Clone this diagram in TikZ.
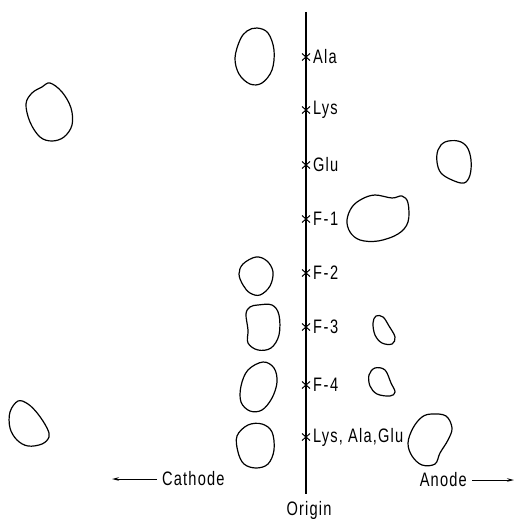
\documentclass[tikz,border=0pt]{standalone}
\usepackage{fontspec}
\setmainfont[FakeStretch=0.75,LetterSpace=6]{Liberation Sans}
\usetikzlibrary{shapes.misc,arrows.meta}
\begin{document}
\begin{tikzpicture}[x=1pt,y=-1pt,
  spot/.style={draw=black,line width=1.2pt,line join=round},
  xmk/.style={cross out,draw=black,line width=1pt,minimum width=7pt,minimum height=6pt,inner sep=0pt},
  lab/.style={anchor=west,inner sep=0pt,font=\fontsize{19.5}{21}\selectfont},
  txt/.style={inner sep=0pt,font=\fontsize{19.5}{21}\selectfont},
  axis/.style={line width=1.2pt},
  dir/.style={line width=1pt,-{Stealth[length=7pt,width=3.5pt]}}]
\useasboundingbox (0,0) rectangle (514,519);
% axis
\coordinate (top) at (306,12);
\coordinate (bot) at (306,494);
\draw[axis] (top) -- (bot);
% marks and labels
\node[xmk] (m1) at (306,57) {};  \node[lab] (l1) at (313,57) {Ala};
\node[xmk] (m2) at (306,110) {}; \node[lab] (l2) at (313,110) {Lys};
\node[xmk] (m3) at (306,165) {}; \node[lab] (l3) at (313,165) {Glu};
\node[xmk] (m4) at (306,219) {}; \node[lab] (l4) at (313,219) {F\kern1.5pt-\kern1.5pt1};
\node[xmk] (m5) at (306,273) {}; \node[lab] (l5) at (313,273) {F\kern1.5pt-\kern1.5pt2};
\node[xmk] (m6) at (306,327) {}; \node[lab] (l6) at (313,327) {F\kern1.5pt-\kern1.5pt3};
\node[xmk] (m7) at (306,385) {}; \node[lab] (l7) at (313,385) {F\kern1.5pt-\kern1.5pt4};
\node[xmk] (m8) at (306,437) {}; \node[lab] (l8) at (313,437) {Lys, Ala,Glu};
% bottom labels
\node[txt,anchor=west] (cat) at (162,479) {Cathode};
\coordinate (catend) at (112,479);
\draw[dir] (cat.west) ++(-5,0) -- (catend);
\node[txt,anchor=east] (ano) at (467,480) {Anode};
\coordinate (anoend) at (514,480);
\draw[dir] ([xshift=5pt]ano.east) -- (anoend);
\node[txt] (ori) at (309,510) {Origin};
% spots
\draw[spot] plot[smooth cycle,tension=0.6] coordinates {(257,28) (268,33) (274,50) (272,70) (262,83) (250,84) (239,74) (235,58) (240,40) (247,31)};
\draw[spot] plot[smooth cycle,tension=0.6] coordinates {(50,83) (62,92) (71,108) (72,125) (64,137) (52,141) (40,137) (30,122) (26,104) (32,93) (42,87)};
\draw[spot] plot[smooth cycle,tension=0.6] coordinates {(445,142) (458,141) (467,147) (471,160) (470,175) (464,183) (452,180) (441,173) (437,162) (438,150)};
\draw[spot] plot[smooth cycle,tension=0.6] coordinates {(375,195) (392,198) (402,196) (408,203) (408,222) (398,234) (378,241) (360,240) (350,232) (347,220) (352,207) (362,199)};
\draw[spot] plot[smooth cycle,tension=0.6] coordinates {(256,257) (267,261) (273,272) (270,286) (260,295) (250,293) (243,285) (239,274) (243,264)};
\draw[spot] plot[smooth cycle,tension=0.6] coordinates {(258,305) (272,305) (279,315) (279,335) (271,348) (258,350) (248,343) (248,330) (246,314) (250,307)};
\draw[spot] plot[smooth cycle,tension=0.6] coordinates {(376,316) (383,317) (389,326) (395,337) (392,344) (382,343) (375,335) (373,323)};
\draw[spot] plot[smooth cycle,tension=0.6] coordinates {(263,362) (274,368) (277,382) (272,398) (262,410) (250,411) (241,402) (241,386) (248,370)};
\draw[spot] plot[smooth cycle,tension=0.6] coordinates {(375,368) (385,370) (391,383) (395,392) (390,396) (377,394) (370,386) (369,375)};
\draw[spot] plot[smooth cycle,tension=0.6] coordinates {(248,425) (262,424) (272,432) (274,450) (268,464) (256,468) (244,464) (238,452) (237,436)};
\draw[spot] plot[smooth cycle,tension=0.6] coordinates {(432,414) (446,416) (452,428) (448,440) (440,453) (435,464) (422,465) (412,456) (408,443) (413,428) (422,417)};
\draw[spot] plot[smooth cycle,tension=0.6] coordinates {(18,401) (28,404) (38,414) (47,428) (49,437) (42,444) (28,446) (17,440) (10,428) (10,412)};
\end{tikzpicture}
\end{document}
